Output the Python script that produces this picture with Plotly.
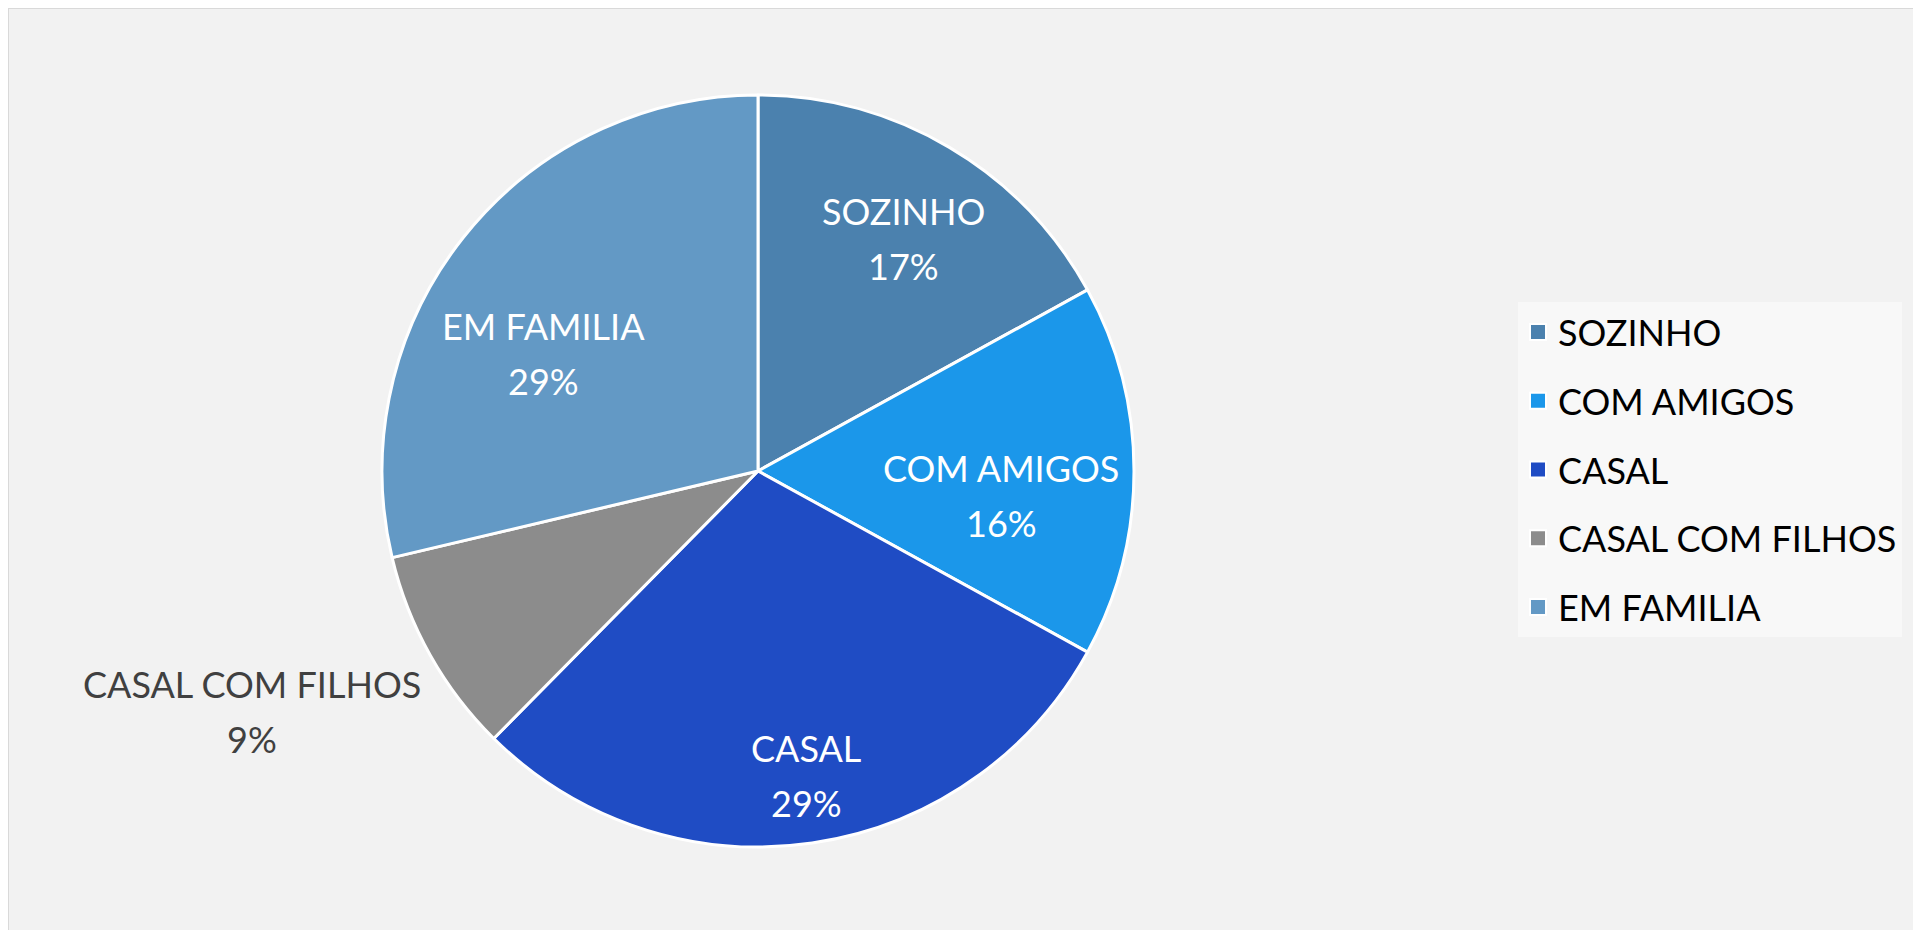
import math
import plotly.graph_objects as go

# ---- data ----
categories = ["SOZINHO", "COM AMIGOS", "CASAL", "CASAL COM FILHOS", "EM FAMILIA"]
values = [17.0, 16.0, 29.4, 8.9, 28.7]
colors = ["#4b81ae", "#1b97ea", "#1f4cc4", "#8c8c8c", "#6399c5"]

# ---- style ----
label_colors = ["white", "white", "white", "#404040", "white"]
label_radius = [0.73, 0.65, 0.82, 1.49, 0.65]      # label distance from centre, in radii
label_turn = [1.5, 5.8, -0.7, 3.9, -9.7]            # small angular nudges (deg)
FONT = "Lato, 'Open Sans', sans-serif"
FS = 36
LINE_GAP = 55
W, H = 1921, 930
BODY = 8  # page body margin of the html page

# pie geometry (pixels, page coordinates)
cx, cy, r = 758 - BODY, 471 - BODY, 376

fig = go.Figure()
fig.add_trace(go.Pie(
    labels=categories,
    values=values,
    sort=False,
    direction="clockwise",
    rotation=0,
    marker=dict(colors=colors, line=dict(color="white", width=3)),
    textinfo="none",
    showlegend=False,
    hoverinfo="label+percent",
    domain=dict(x=[(cx - r) / W, (cx + r) / W], y=[(H - cy - r) / H, (H - cy + r) / H]),
))

# legend entries (one group each so spacing can be set)
for c, col in zip(categories, colors):
    fig.add_trace(go.Scatter(
        x=[None], y=[None], mode="markers", name=c,
        legendgroup=c,
        marker=dict(symbol="square", size=16, color=col, line=dict(color="white", width=2)),
        showlegend=True, hoverinfo="skip",
    ))

# data labels, placed from the slice angles
total = sum(values)
cum = 0.0
for i, (c, v) in enumerate(zip(categories, values)):
    mid = (cum + v / 2) / total * 360 + label_turn[i]
    cum += v
    k = label_radius[i] * r
    px = cx + k * math.sin(math.radians(mid))
    py = cy - k * math.cos(math.radians(mid))
    pct = v / total * 100
    for txt, shift in ((c, LINE_GAP / 2), (f"{pct:.0f}%", -LINE_GAP / 2)):
        fig.add_annotation(
            x=px / W, y=1 - py / H, xref="paper", yref="paper",
            xanchor="center", yanchor="middle", yshift=shift,
            text=txt, showarrow=False,
            font=dict(family=FONT, size=FS, color=label_colors[i]),
        )

# chart frame
fig.add_shape(type="rect", xref="paper", yref="paper",
              x0=0, y0=-0.05, x1=1.05, y1=1,
              line=dict(color="#d9d9d9", width=2), fillcolor="rgba(0,0,0,0)", layer="below")

fig.update_layout(
    width=W, height=H,
    margin=dict(l=0, r=0, t=0, b=0),
    paper_bgcolor="#f2f2f2",
    plot_bgcolor="#f2f2f2",
    xaxis=dict(visible=False),
    yaxis=dict(visible=False),
    legend=dict(
        x=(1518 - BODY) / W, y=1 - (302 - BODY) / H, xanchor="left", yanchor="top",
        bgcolor="#f8f8f8", borderwidth=0,
        font=dict(family=FONT, size=FS, color="#000000"),
        tracegroupgap=19, itemsizing="trace",
    ),
)

fig.write_html("out.html")
